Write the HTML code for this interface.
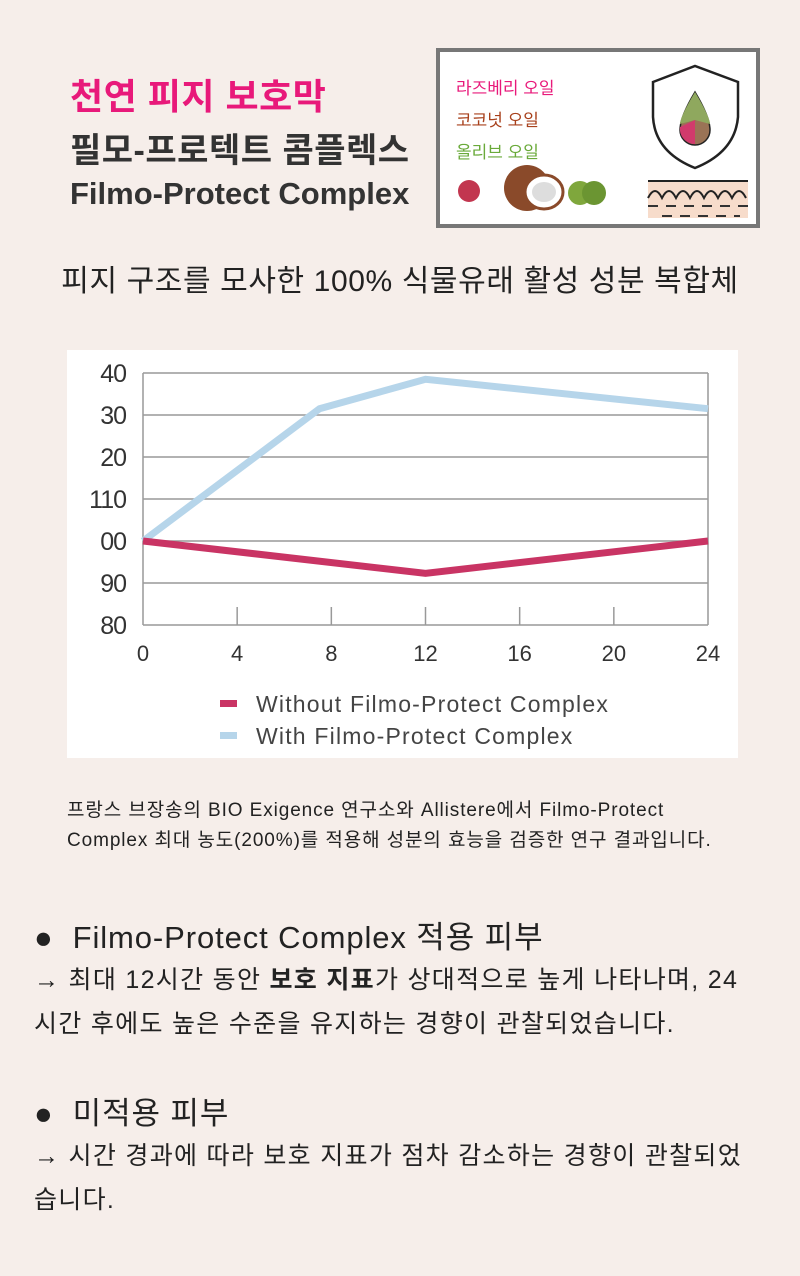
<!DOCTYPE html>
<html><head><meta charset="utf-8"><style>
body{margin:0;width:800px;height:1276px;background:#f6eeea;font-family:"Liberation Sans","Noto Sans CJK KR",sans-serif;position:relative;overflow:hidden;color:#222}
.a{position:absolute;white-space:nowrap}
</style></head><body>
<div class="a" style="left:70px;top:68px;font-size:36px;font-weight:bold;color:#e8197a;letter-spacing:0.5px">천연 피지 보호막</div>
<div class="a" style="left:70px;top:123px;font-size:34px;font-weight:bold;color:#333;letter-spacing:0.5px">필모-프로텍트 콤플렉스</div>
<div class="a" style="left:70px;top:176px;font-size:31px;font-weight:bold;color:#333">Filmo-Protect Complex</div>
<div class="a" style="left:436px;top:48px;width:316px;height:172px;background:#fff;border:4px solid #777">
 <div class="a" style="left:16px;top:22px;font-size:17px;color:#e8197a">라즈베리 오일</div>
 <div class="a" style="left:16px;top:54px;font-size:17px;color:#a8411c">코코넛 오일</div>
 <div class="a" style="left:16px;top:86px;font-size:17px;color:#6aaa3a">올리브 오일</div>
 <svg class="a" style="left:0;top:0" width="316" height="172">
  <circle cx="29" cy="139" r="11" fill="#c2364f"/>
  <circle cx="87" cy="136" r="23" fill="#8a4a2a"/><ellipse cx="104" cy="140" rx="19" ry="17" fill="#fff" stroke="#8a4a2a" stroke-width="3"/><ellipse cx="104" cy="140" rx="12" ry="10" fill="#ddd"/>
  <circle cx="140" cy="141" r="12" fill="#7fa73c"/><circle cx="154" cy="141" r="12" fill="#6b9532"/>
  <path d="M213 30 L255 14 L298 30 L298 65 Q295 100 255 116 Q215 100 213 65 Z" fill="none" stroke="#222" stroke-width="2.5"/>
  <path d="M255 40 Q240 65 240 78 A15 15 0 0 0 270 78 Q270 65 255 40Z" fill="#9a7356" stroke="#222" stroke-width="1.5"/>
  <path d="M255 40 Q240 65 240 72 L255 68 L270 72 Q270 65 255 40Z" fill="#8fa85e"/>
  <path d="M240 75 A15 15 0 0 0 255 92 L255 68Z" fill="#d13a6c"/>
  <rect x="208" y="128" width="100" height="38" fill="#f7dccb"/>
  <line x1="208" y1="129" x2="308" y2="129" stroke="#222" stroke-width="2"/>
  <path d="M208 146 q7 -14 14 0 q7 -14 14 0 q7 -14 14 0 q7 -14 14 0 q7 -14 14 0 q7 -14 14 0 q7 -14 14 0" fill="none" stroke="#222" stroke-width="2"/>
  <line x1="208" y1="154" x2="308" y2="154" stroke="#333" stroke-width="2" stroke-dasharray="10 8"/>
  <line x1="222" y1="164" x2="300" y2="164" stroke="#333" stroke-width="2" stroke-dasharray="10 8"/>
 </svg>
</div>
<div class="a" style="left:0;width:800px;text-align:center;top:256px;font-size:30px;color:#222;letter-spacing:0.6px">피지 구조를 모사한 100% 식물유래 활성 성분 복합체</div>
<svg class="a" id="chart" style="left:67px;top:350px;background:#fff" width="671" height="408"></svg>
<div class="a" style="left:67px;top:796px;font-size:19px;line-height:30px;color:#222;letter-spacing:0.9px">프랑스 브장송의 BIO Exigence 연구소와 Allistere에서 Filmo-Protect<br>Complex 최대 농도(200%)를 적용해 성분의 효능을 검증한 연구 결과입니다.</div>
<div class="a" style="left:34px;top:912px;font-size:31px;color:#222;letter-spacing:0.9px">●&nbsp; Filmo-Protect Complex 적용 피부</div>
<div class="a" style="left:34px;top:958px;font-size:25px;line-height:44px;color:#222;letter-spacing:1.3px">→ 최대 12시간 동안 <b>보호 지표</b>가 상대적으로 높게 나타나며, 24<br>시간 후에도 높은 수준을 유지하는 경향이 관찰되었습니다.</div>
<div class="a" style="left:34px;top:1088px;font-size:31px;color:#222;letter-spacing:0.9px">●&nbsp; 미적용 피부</div>
<div class="a" style="left:34px;top:1134px;font-size:25px;line-height:44px;color:#222;letter-spacing:1.3px">→ 시간 경과에 따라 보호 지표가 점차 감소하는 경향이 관찰되었<br>습니다.</div>
<script>
const yTickValues=[140,130,120,110,100,90,80];
const yTickLabels=["40","30","20","110","00","90","80"];
const xTickValues=[0,4,8,12,16,20,24];
const withHours=[0,7.5,12,24];
const withValues=[100,131.5,138.5,131.5];
const withoutHours=[0,12,24];
const withoutValues=[100,92.3,100];
const NS="http://www.w3.org/2000/svg";
const svg=document.getElementById('chart');
const L=76,R=641,T=23,B=275;
const xs=v=>L+(v-0)/(24-0)*(R-L);
const ys=v=>B-(v-80)/(140-80)*(B-T);
function mk(t,a){const e=document.createElementNS(NS,t);for(const k in a)e.setAttribute(k,a[k]);svg.appendChild(e);return e;}
yTickValues.forEach((v,i)=>{
 const l=mk('line',{x1:L,x2:R,y1:ys(v),y2:ys(v),stroke:'#999','stroke-width':1.5});
 
 
 const t=mk('text',{x:L-17,y:ys(v)+9,'text-anchor':'end','font-size':25,fill:'#333','font-family':'Liberation Sans','letter-spacing':'-1'});
 t.textContent=yTickLabels[i];
 
 
});
const ax=mk('line',{x1:L,x2:L,y1:T,y2:B,stroke:'#999','stroke-width':1.5});


const ax2=mk('line',{x1:R,x2:R,y1:T,y2:B,stroke:'#999','stroke-width':1.5});


xTickValues.forEach(v=>{
 if(v>0&&v<24){const tk=mk('line',{x1:xs(v),x2:xs(v),y1:B-18,y2:B,stroke:'#999','stroke-width':1.5});
 
 }
 const t=mk('text',{x:xs(v),y:B+36,'text-anchor':'middle','font-size':22,fill:'#333','font-family':'Liberation Sans'});
 t.textContent=v;
 
 
});
const p1=mk('polyline',{points:withHours.map((h,i)=>xs(h)+','+ys(withValues[i])).join(' '),fill:'none',stroke:'#b6d5ea','stroke-width':7});


const p2=mk('polyline',{points:withoutHours.map((h,i)=>xs(h)+','+ys(withoutValues[i])).join(' '),fill:'none',stroke:'#c93464','stroke-width':7});


[["Without Filmo-Protect Complex",'#c93464',354],["With Filmo-Protect Complex",'#b6d5ea',386]].forEach(([s,c,y])=>{
 const r=mk('rect',{x:153,y:y-4,width:17,height:7,fill:c});
 
 
 const t=mk('text',{x:189,y:y+8,'font-size':23,fill:'#444','font-family':'Liberation Sans','letter-spacing':'1.2'});
 t.textContent=s;
 
 
});
</script>
</body></html>
